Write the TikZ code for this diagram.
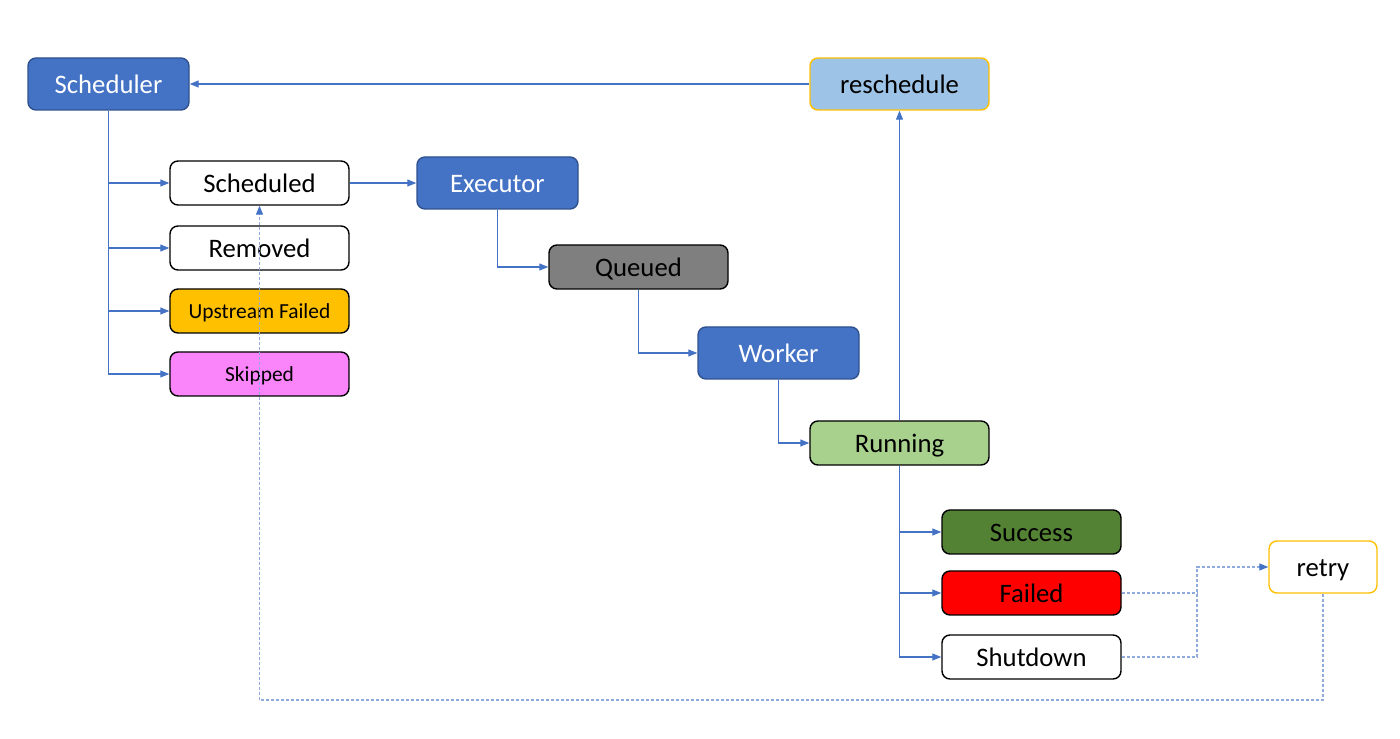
\documentclass[tikz,border=0pt]{standalone}
\usepackage{fontspec}
\setmainfont{Carlito}
\usetikzlibrary{arrows.meta}
\definecolor{blu}{HTML}{4472C4}
\definecolor{bluedge}{HTML}{2F528F}
\definecolor{lightblu}{HTML}{9DC3E6}
\definecolor{dotblu}{HTML}{8FAADC}
\definecolor{amber}{HTML}{FFC000}
\definecolor{pinkish}{HTML}{FA84FA}
\definecolor{grayq}{HTML}{7F7F7F}
\definecolor{lightgrn}{HTML}{A9D18E}
\definecolor{darkgrn}{HTML}{548235}
\begin{document}
\begin{tikzpicture}[
	box/.style={draw=black, line width=0.4pt, rounded corners=0.8mm, minimum width=1.79cm, minimum height=0.44cm, inner sep=0pt, text height=5.6pt, text depth=0.3pt, font=\fontsize{7.6}{9}\selectfont},
	actor/.style={box, fill=blu, draw=bluedge, text=white, minimum width=1.61cm, minimum height=0.52cm},
	small/.style={font=\fontsize{6.1}{7}\selectfont, text height=4.4pt, text depth=0.2pt},
	link/.style={blu, line width=0.3pt, -{Triangle[length=0.9mm,width=0.7mm]}},
	dotline/.style={dotblu, line width=0.35pt, dash pattern=on 0.3mm off 0.2mm},
	dotlink/.style={dotline, -{Triangle[length=0.9mm,width=0.7mm,color=blu]}}
	]
	\useasboundingbox (0,0) rectangle (14,7.39);
	
	\node[actor] (Sch) at (1.085,6.55) {Scheduler};
	\node[box, fill=lightblu, draw=amber, minimum height=0.52cm] (Res) at (8.995,6.55) {reschedule};
	
	\node[box] (Sd) at (2.595,5.56) {Scheduled};
	\node[box] (Rm) at (2.595,4.91) {Removed};
	\node[box, small, fill=amber] (Up) at (2.595,4.28) {Upstream Failed};
	\node[box, small, fill=pinkish] (Sk) at (2.595,3.65) {Skipped};
	
	\node[actor] (Ex) at (4.975,5.56) {Executor};
	\node[box, fill=grayq] (Qu) at (6.385,4.72) {Queued};
	\node[actor] (Wk) at (7.785,3.86) {Worker};
	\node[box, fill=lightgrn] (Rn) at (8.995,2.96) {Running};
	
	\node[box, fill=darkgrn] (Su) at (10.315,2.07) {Success};
	\node[box, fill=red] (Fa) at (10.315,1.46) {Failed};
	\node[box] (Sh) at (10.315,0.82) {Shutdown};
	\node[box, draw=amber, minimum width=1.08cm, minimum height=0.52cm] (Rt) at (13.23,1.72) {retry};
	
	\coordinate (J) at (11.97,0);
	\coordinate (L) at (0,0.39);
	
	\draw[link] (Res.west)--(Sch.east);
	\foreach \t in {Sd,Rm,Up,Sk}
		\draw[link] (Sch.south) |- (\t.west);
	\draw[link] (Sd.east)--(Ex.west);
	\draw[link] (Ex.south) |- (Qu.west);
	\draw[link] (Qu.south) |- (Wk.west);
	\draw[link] (Wk.south) |- (Rn.west);
	\draw[link] (Rn.north)--(Res.south);
	\foreach \t in {Su,Fa,Sh}
		\draw[link] (Rn.south) |- (\t.west);
	
	\draw[dotline] (Fa.east)--(Fa.east -| J);
	\draw[dotlink] (Sh.east) -| (J |- Rt) -- (Rt.west);
	\draw[dotlink] (Rt.south)--(Rt.south |- L) -| (Sd.south);
\end{tikzpicture}
\end{document}
